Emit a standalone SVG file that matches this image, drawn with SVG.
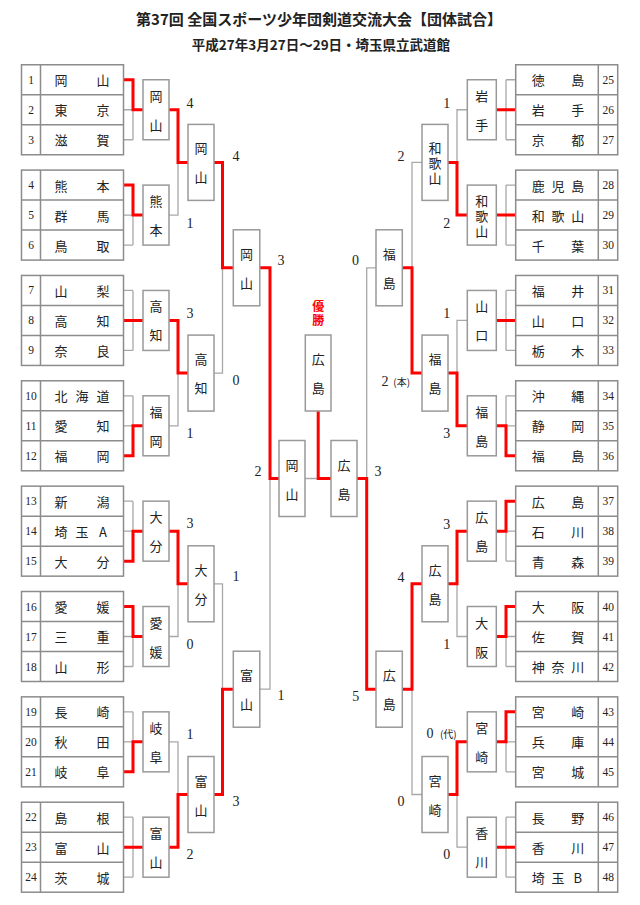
<svg xmlns="http://www.w3.org/2000/svg" width="640" height="905" viewBox="0 0 640 905">
<style>
.tb{fill:#fff;stroke:#8c8c8c;stroke-width:1.5}
.tl{fill:none;stroke:#8c8c8c;stroke-width:1.5}
.bx{fill:#fff;stroke:#999;stroke-width:1.5}
.g{fill:none;stroke:#a8a8a8;stroke-width:1.3}
.r{fill:none;stroke:#f00;stroke-width:3}
.jp{font-family:"Noto Sans CJK JP","Noto Sans CJK SC",sans-serif;font-size:13px;fill:#222;text-anchor:middle;dominant-baseline:central}
.nm{font-family:"Liberation Serif",serif;font-size:11.5px;fill:#222;text-anchor:middle;dominant-baseline:central}
.sc{font-family:"Liberation Serif",serif;font-size:14px;fill:#222;text-anchor:middle;dominant-baseline:central}
.sm{font-family:"Noto Sans CJK JP",sans-serif;font-size:10px;fill:#222;text-anchor:middle;dominant-baseline:central}
.tt{font-family:"Noto Sans CJK JP",sans-serif;fill:#222;text-anchor:middle;dominant-baseline:central;font-weight:bold}
.win{font-family:"Noto Sans CJK JP",sans-serif;font-size:12px;fill:#f00;text-anchor:middle;dominant-baseline:central;font-weight:bold}
</style>
<text class="tt" x="319" y="18" font-size="15">第37回 全国スポーツ少年団剣道交流大会【団体試合】</text>
<text class="tt" x="321" y="43.5" font-size="13.5" font-weight="normal">平成27年3月27日～29日・埼玉県立武道館</text>

<g id="connectors">
<path class="g" d="M123.5,79.75H133M123.5,109.75H143M123.5,139.75H133M133,79.75V139.75
M123.5,185.1H133M123.5,215.1H143M123.5,245.1H133M133,185.1V245.1
M123.5,290.45H133M123.5,320.45H143M123.5,350.45H133M133,290.45V350.45
M123.5,395.8H133M123.5,425.8H143M123.5,455.8H133M133,395.8V455.8
M123.5,501.15H133M123.5,531.15H143M123.5,561.15H133M133,501.15V561.15
M123.5,606.5H133M123.5,636.5H143M123.5,666.5H133M133,606.5V666.5
M123.5,711.85H133M123.5,741.85H143M123.5,771.85H133M133,711.85V771.85
M123.5,817.2H133M123.5,847.2H143M123.5,877.2H133M133,817.2V877.2
M515.7,79.75H506M515.7,109.75H496.3M515.7,139.75H506M506,79.75V139.75
M515.7,185.1H506M515.7,215.1H496.3M515.7,245.1H506M506,185.1V245.1
M515.7,290.45H506M515.7,320.45H496.3M515.7,350.45H506M506,290.45V350.45
M515.7,395.8H506M515.7,425.8H496.3M515.7,455.8H506M506,395.8V455.8
M515.7,501.15H506M515.7,531.15H496.3M515.7,561.15H506M506,501.15V561.15
M515.7,606.5H506M515.7,636.5H496.3M515.7,666.5H506M506,606.5V666.5
M515.7,711.85H506M515.7,741.85H496.3M515.7,771.85H506M506,711.85V771.85
M515.7,817.2H506M515.7,847.2H496.3M515.7,877.2H506M506,817.2V877.2
M169,109.75H178V215.1H169M178,162.4H188
M169,320.45H178V425.8H169M178,373.1H188
M169,531.15H178V636.5H169M178,583.8H188
M169,741.85H178V847.2H169M178,794.5H188
M467.3,109.75H457V215.1H467.3M457,162.4H448
M467.3,320.45H457V425.8H467.3M457,373.1H448
M467.3,531.15H457V636.5H467.3M457,583.8H448
M467.3,741.85H457V847.2H467.3M457,794.5H448
M214,162.4H222.5V373.1H214M222.5,267.8H233.3
M214,583.8H222.5V794.5H214M222.5,689.2H233.3
M422,162.4H412V373.1H422M412,267.8H402.3
M422,583.8H412V794.5H422M412,689.2H402.3
M259.8,267.8H270V689.2H259.8M270,478.5H279
M376,267.8H366.7V689.2H376M366.7,478.5H357
M305,478.5H331"/>
<path class="r" d="M123.5,79.75H133V109.75H143
M123.5,185.1H133V215.1H143
M123.5,320.45H143
M123.5,455.8H133V425.8H143
M123.5,561.15H133V531.15H143
M123.5,606.5H133V636.5H143
M123.5,771.85H133V741.85H143
M123.5,847.2H143
M169,109.75H178V162.4H188
M169,320.45H178V373.1H188
M169,531.15H178V583.8H188
M169,847.2H178V794.5H188
M214,162.4H222.5V267.8H233.3
M214,794.5H222.5V689.2H233.3
M259.8,267.8H270V478.5H279
M318.2,411V478.5H331
M357,478.5H366.7V689.2H376
M422,583.8H412V689.2H402.3
M422,373.1H412V267.8H402.3
M467.3,215.1H457V162.4H448
M467.3,425.8H457V373.1H448
M467.3,531.15H457V583.8H448
M467.3,741.85H457V794.5H448
M515.7,109.75H496.3
M515.7,215.1H496.3
M515.7,320.45H496.3
M515.7,455.8H506V425.8H496.3
M515.7,501.15H506V531.15H496.3
M515.7,606.5H506V636.5H496.3
M515.7,711.85H506V741.85H496.3
M515.7,847.2H496.3"/>
</g>

<g id="team-1-3"><rect class="tb" x="21.5" y="64.75" width="102" height="90"/><path class="tl" d="M40.5,64.75V154.75M21.5,94.75H123.5M21.5,124.75H123.5"/>
<text class="nm" x="31" y="79.75">1</text><text class="nm" x="31" y="109.75">2</text><text class="nm" x="31" y="139.75">3</text>
<text class="jp" x="61 103" y="79.75">岡山</text><text class="jp" x="61 103" y="109.75">東京</text><text class="jp" x="61 103" y="139.75">滋賀</text></g>
<g id="team-4-6"><rect class="tb" x="21.5" y="170.1" width="102" height="90"/><path class="tl" d="M40.5,170.1V260.1M21.5,200.1H123.5M21.5,230.1H123.5"/>
<text class="nm" x="31" y="185.1">4</text><text class="nm" x="31" y="215.1">5</text><text class="nm" x="31" y="245.1">6</text>
<text class="jp" x="61 103" y="185.1">熊本</text><text class="jp" x="61 103" y="215.1">群馬</text><text class="jp" x="61 103" y="245.1">鳥取</text></g>
<g id="team-7-9"><rect class="tb" x="21.5" y="275.45" width="102" height="90"/><path class="tl" d="M40.5,275.45V365.45M21.5,305.45H123.5M21.5,335.45H123.5"/>
<text class="nm" x="31" y="290.45">7</text><text class="nm" x="31" y="320.45">8</text><text class="nm" x="31" y="350.45">9</text>
<text class="jp" x="61 103" y="290.45">山梨</text><text class="jp" x="61 103" y="320.45">高知</text><text class="jp" x="61 103" y="350.45">奈良</text></g>
<g id="team-10-12"><rect class="tb" x="21.5" y="380.8" width="102" height="90"/><path class="tl" d="M40.5,380.8V470.8M21.5,410.8H123.5M21.5,440.8H123.5"/>
<text class="nm" x="31" y="395.8">10</text><text class="nm" x="31" y="425.8">11</text><text class="nm" x="31" y="455.8">12</text>
<text class="jp" x="61 82 103" y="395.8">北海道</text><text class="jp" x="61 103" y="425.8">愛知</text><text class="jp" x="61 103" y="455.8">福岡</text></g>
<g id="team-13-15"><rect class="tb" x="21.5" y="486.15" width="102" height="90"/><path class="tl" d="M40.5,486.15V576.15M21.5,516.15H123.5M21.5,546.15H123.5"/>
<text class="nm" x="31" y="501.15">13</text><text class="nm" x="31" y="531.15">14</text><text class="nm" x="31" y="561.15">15</text>
<text class="jp" x="61 103" y="501.15">新潟</text><text class="jp" x="61 82 103" y="531.15">埼玉A</text><text class="jp" x="61 103" y="561.15">大分</text></g>
<g id="team-16-18"><rect class="tb" x="21.5" y="591.5" width="102" height="90"/><path class="tl" d="M40.5,591.5V681.5M21.5,621.5H123.5M21.5,651.5H123.5"/>
<text class="nm" x="31" y="606.5">16</text><text class="nm" x="31" y="636.5">17</text><text class="nm" x="31" y="666.5">18</text>
<text class="jp" x="61 103" y="606.5">愛媛</text><text class="jp" x="61 103" y="636.5">三重</text><text class="jp" x="61 103" y="666.5">山形</text></g>
<g id="team-19-21"><rect class="tb" x="21.5" y="696.85" width="102" height="90"/><path class="tl" d="M40.5,696.85V786.85M21.5,726.85H123.5M21.5,756.85H123.5"/>
<text class="nm" x="31" y="711.85">19</text><text class="nm" x="31" y="741.85">20</text><text class="nm" x="31" y="771.85">21</text>
<text class="jp" x="61 103" y="711.85">長崎</text><text class="jp" x="61 103" y="741.85">秋田</text><text class="jp" x="61 103" y="771.85">岐阜</text></g>
<g id="team-22-24"><rect class="tb" x="21.5" y="802.2" width="102" height="90"/><path class="tl" d="M40.5,802.2V892.2M21.5,832.2H123.5M21.5,862.2H123.5"/>
<text class="nm" x="31" y="817.2">22</text><text class="nm" x="31" y="847.2">23</text><text class="nm" x="31" y="877.2">24</text>
<text class="jp" x="61 103" y="817.2">島根</text><text class="jp" x="61 103" y="847.2">富山</text><text class="jp" x="61 103" y="877.2">茨城</text></g>

<g id="team-25-27"><rect class="tb" x="515.7" y="64.75" width="102" height="90"/><path class="tl" d="M598.3,64.75V154.75M515.7,94.75H617.7M515.7,124.75H617.7"/>
<text class="nm" x="608.3" y="79.75">25</text><text class="nm" x="608.3" y="109.75">26</text><text class="nm" x="608.3" y="139.75">27</text>
<text class="jp" x="538.3 577.7" y="79.75">徳島</text><text class="jp" x="538.3 577.7" y="109.75">岩手</text><text class="jp" x="538.3 577.7" y="139.75">京都</text></g>
<g id="team-28-30"><rect class="tb" x="515.7" y="170.1" width="102" height="90"/><path class="tl" d="M598.3,170.1V260.1M515.7,200.1H617.7M515.7,230.1H617.7"/>
<text class="nm" x="608.3" y="185.1">28</text><text class="nm" x="608.3" y="215.1">29</text><text class="nm" x="608.3" y="245.1">30</text>
<text class="jp" x="538.3 558 577.7" y="185.1">鹿児島</text><text class="jp" x="538.3 558 577.7" y="215.1">和歌山</text><text class="jp" x="538.3 577.7" y="245.1">千葉</text></g>
<g id="team-31-33"><rect class="tb" x="515.7" y="275.45" width="102" height="90"/><path class="tl" d="M598.3,275.45V365.45M515.7,305.45H617.7M515.7,335.45H617.7"/>
<text class="nm" x="608.3" y="290.45">31</text><text class="nm" x="608.3" y="320.45">32</text><text class="nm" x="608.3" y="350.45">33</text>
<text class="jp" x="538.3 577.7" y="290.45">福井</text><text class="jp" x="538.3 577.7" y="320.45">山口</text><text class="jp" x="538.3 577.7" y="350.45">栃木</text></g>
<g id="team-34-36"><rect class="tb" x="515.7" y="380.8" width="102" height="90"/><path class="tl" d="M598.3,380.8V470.8M515.7,410.8H617.7M515.7,440.8H617.7"/>
<text class="nm" x="608.3" y="395.8">34</text><text class="nm" x="608.3" y="425.8">35</text><text class="nm" x="608.3" y="455.8">36</text>
<text class="jp" x="538.3 577.7" y="395.8">沖縄</text><text class="jp" x="538.3 577.7" y="425.8">静岡</text><text class="jp" x="538.3 577.7" y="455.8">福島</text></g>
<g id="team-37-39"><rect class="tb" x="515.7" y="486.15" width="102" height="90"/><path class="tl" d="M598.3,486.15V576.15M515.7,516.15H617.7M515.7,546.15H617.7"/>
<text class="nm" x="608.3" y="501.15">37</text><text class="nm" x="608.3" y="531.15">38</text><text class="nm" x="608.3" y="561.15">39</text>
<text class="jp" x="538.3 577.7" y="501.15">広島</text><text class="jp" x="538.3 577.7" y="531.15">石川</text><text class="jp" x="538.3 577.7" y="561.15">青森</text></g>
<g id="team-40-42"><rect class="tb" x="515.7" y="591.5" width="102" height="90"/><path class="tl" d="M598.3,591.5V681.5M515.7,621.5H617.7M515.7,651.5H617.7"/>
<text class="nm" x="608.3" y="606.5">40</text><text class="nm" x="608.3" y="636.5">41</text><text class="nm" x="608.3" y="666.5">42</text>
<text class="jp" x="538.3 577.7" y="606.5">大阪</text><text class="jp" x="538.3 577.7" y="636.5">佐賀</text><text class="jp" x="538.3 558 577.7" y="666.5">神奈川</text></g>
<g id="team-43-45"><rect class="tb" x="515.7" y="696.85" width="102" height="90"/><path class="tl" d="M598.3,696.85V786.85M515.7,726.85H617.7M515.7,756.85H617.7"/>
<text class="nm" x="608.3" y="711.85">43</text><text class="nm" x="608.3" y="741.85">44</text><text class="nm" x="608.3" y="771.85">45</text>
<text class="jp" x="538.3 577.7" y="711.85">宮崎</text><text class="jp" x="538.3 577.7" y="741.85">兵庫</text><text class="jp" x="538.3 577.7" y="771.85">宮城</text></g>
<g id="team-46-48"><rect class="tb" x="515.7" y="802.2" width="102" height="90"/><path class="tl" d="M598.3,802.2V892.2M515.7,832.2H617.7M515.7,862.2H617.7"/>
<text class="nm" x="608.3" y="817.2">46</text><text class="nm" x="608.3" y="847.2">47</text><text class="nm" x="608.3" y="877.2">48</text>
<text class="jp" x="538.3 577.7" y="817.2">長野</text><text class="jp" x="538.3 577.7" y="847.2">香川</text><text class="jp" x="538.3 558 577.7" y="877.2">埼玉B</text></g>

<g id="L-r1-1"><rect class="bx" x="143" y="79.75" width="26" height="60"/><text class="jp" x="156 156" y="95.25 124.25">岡山</text></g>
<g id="L-r1-2"><rect class="bx" x="143" y="185.1" width="26" height="60"/><text class="jp" x="156 156" y="200.6 229.6">熊本</text></g>
<g id="L-r1-3"><rect class="bx" x="143" y="290.45" width="26" height="60"/><text class="jp" x="156 156" y="305.95 334.95">高知</text></g>
<g id="L-r1-4"><rect class="bx" x="143" y="395.8" width="26" height="60"/><text class="jp" x="156 156" y="411.3 440.3">福岡</text></g>
<g id="L-r1-5"><rect class="bx" x="143" y="501.15" width="26" height="60"/><text class="jp" x="156 156" y="516.65 545.65">大分</text></g>
<g id="L-r1-6"><rect class="bx" x="143" y="606.5" width="26" height="60"/><text class="jp" x="156 156" y="622 651">愛媛</text></g>
<g id="L-r1-7"><rect class="bx" x="143" y="711.85" width="26" height="60"/><text class="jp" x="156 156" y="727.35 756.35">岐阜</text></g>
<g id="L-r1-8"><rect class="bx" x="143" y="817.2" width="26" height="60"/><text class="jp" x="156 156" y="832.7 861.7">富山</text></g>

<g id="L-r2-1"><rect class="bx" x="188" y="124.4" width="26" height="76"/><text class="jp" x="201 201" y="147.9 176.9">岡山</text></g>
<g id="L-r2-2"><rect class="bx" x="188" y="335.1" width="26" height="76"/><text class="jp" x="201 201" y="358.6 387.6">高知</text></g>
<g id="L-r2-3"><rect class="bx" x="188" y="545.8" width="26" height="76"/><text class="jp" x="201 201" y="569.3 598.3">大分</text></g>
<g id="L-r2-4"><rect class="bx" x="188" y="756.5" width="26" height="76"/><text class="jp" x="201 201" y="780 809">富山</text></g>

<g id="L-qf-1"><rect class="bx" x="233.3" y="229.8" width="26.5" height="76"/><text class="jp" x="246.5 246.5" y="253.3 282.3">岡山</text></g>
<g id="L-qf-2"><rect class="bx" x="233.3" y="651.2" width="26.5" height="76"/><text class="jp" x="246.5 246.5" y="674.7 703.7">富山</text></g>

<g id="L-sf"><rect class="bx" x="279" y="440.5" width="26" height="76"/><text class="jp" x="292 292" y="464 493">岡山</text></g>
<g id="R-sf"><rect class="bx" x="331" y="440.5" width="26" height="76"/><text class="jp" x="344 344" y="464 493">広島</text></g>
<g id="champion"><rect class="bx" x="305.3" y="335" width="25.7" height="76"/><text class="jp" x="318.2 318.2" y="358.5 387.5">広島</text>
<text class="win" x="318.2 318.2" y="305.5 319.5">優勝</text></g>

<g id="R-qf-1"><rect class="bx" x="376" y="229.8" width="26.3" height="76"/><text class="jp" x="389.2 389.2" y="253.3 282.3">福島</text></g>
<g id="R-qf-2"><rect class="bx" x="376" y="651.2" width="26.3" height="76"/><text class="jp" x="389.2 389.2" y="674.7 703.7">広島</text></g>

<g id="R-r2-1"><rect class="bx" x="422" y="124.4" width="26" height="76"/><text class="jp" x="435 435 435" y="147.4 162.4 177.4">和歌山</text></g>
<g id="R-r2-2"><rect class="bx" x="422" y="335.1" width="26" height="76"/><text class="jp" x="435 435" y="358.6 387.6">福島</text></g>
<g id="R-r2-3"><rect class="bx" x="422" y="545.8" width="26" height="76"/><text class="jp" x="435 435" y="569.3 598.3">広島</text></g>
<g id="R-r2-4"><rect class="bx" x="422" y="756.5" width="26" height="76"/><text class="jp" x="435 435" y="780 809">宮崎</text></g>

<g id="R-r1-1"><rect class="bx" x="467.3" y="79.75" width="29" height="60"/><text class="jp" x="481.8 481.8" y="95.25 124.25">岩手</text></g>
<g id="R-r1-2"><rect class="bx" x="467.3" y="185.1" width="29" height="60"/><text class="jp" x="481.8 481.8 481.8" y="200.1 215.1 230.1">和歌山</text></g>
<g id="R-r1-3"><rect class="bx" x="467.3" y="290.45" width="29" height="60"/><text class="jp" x="481.8 481.8" y="305.95 334.95">山口</text></g>
<g id="R-r1-4"><rect class="bx" x="467.3" y="395.8" width="29" height="60"/><text class="jp" x="481.8 481.8" y="411.3 440.3">福島</text></g>
<g id="R-r1-5"><rect class="bx" x="467.3" y="501.15" width="29" height="60"/><text class="jp" x="481.8 481.8" y="516.65 545.65">広島</text></g>
<g id="R-r1-6"><rect class="bx" x="467.3" y="606.5" width="29" height="60"/><text class="jp" x="481.8 481.8" y="622 651">大阪</text></g>
<g id="R-r1-7"><rect class="bx" x="467.3" y="711.85" width="29" height="60"/><text class="jp" x="481.8 481.8" y="727.35 756.35">宮崎</text></g>
<g id="R-r1-8"><rect class="bx" x="467.3" y="817.2" width="29" height="60"/><text class="jp" x="481.8 481.8" y="832.7 861.7">香川</text></g>

<g id="scores">
<text class="sc" x="190" y="103">4</text><text class="sc" x="190" y="223">1</text>
<text class="sc" x="190" y="313.4">3</text><text class="sc" x="190" y="433.5">1</text>
<text class="sc" x="190" y="523.6">3</text><text class="sc" x="190" y="644.2">0</text>
<text class="sc" x="190" y="734.5">1</text><text class="sc" x="190" y="854.6">2</text>
<text class="sc" x="236" y="156.7">4</text><text class="sc" x="236" y="380">0</text>
<text class="sc" x="236" y="576.8">1</text><text class="sc" x="236" y="801.7">3</text>
<text class="sc" x="281" y="260.3">3</text><text class="sc" x="281" y="695.5">1</text>
<text class="sc" x="258" y="471.7">2</text>
<text class="sc" x="378" y="471">3</text>
<text class="sc" x="355.5" y="260.7">0</text><text class="sc" x="355.7" y="696">5</text>
<text class="sc" x="401" y="156.7">2</text>
<text class="sc" x="385" y="381.7">2</text><text class="sm" x="401.7" y="381.7">(本)</text>
<text class="sc" x="401" y="577.3">4</text><text class="sc" x="401" y="801.7">0</text>
<text class="sc" x="446.7" y="103.3">1</text><text class="sc" x="446.7" y="223.3">2</text>
<text class="sc" x="446.7" y="313.4">1</text><text class="sc" x="446.7" y="433.4">3</text>
<text class="sc" x="446.7" y="524">3</text><text class="sc" x="446.7" y="644">1</text>
<text class="sc" x="430" y="733.3">0</text><text class="sm" x="448.3" y="733.3">(代)</text>
<text class="sc" x="446.7" y="854.3">0</text>
</g>
</svg>
